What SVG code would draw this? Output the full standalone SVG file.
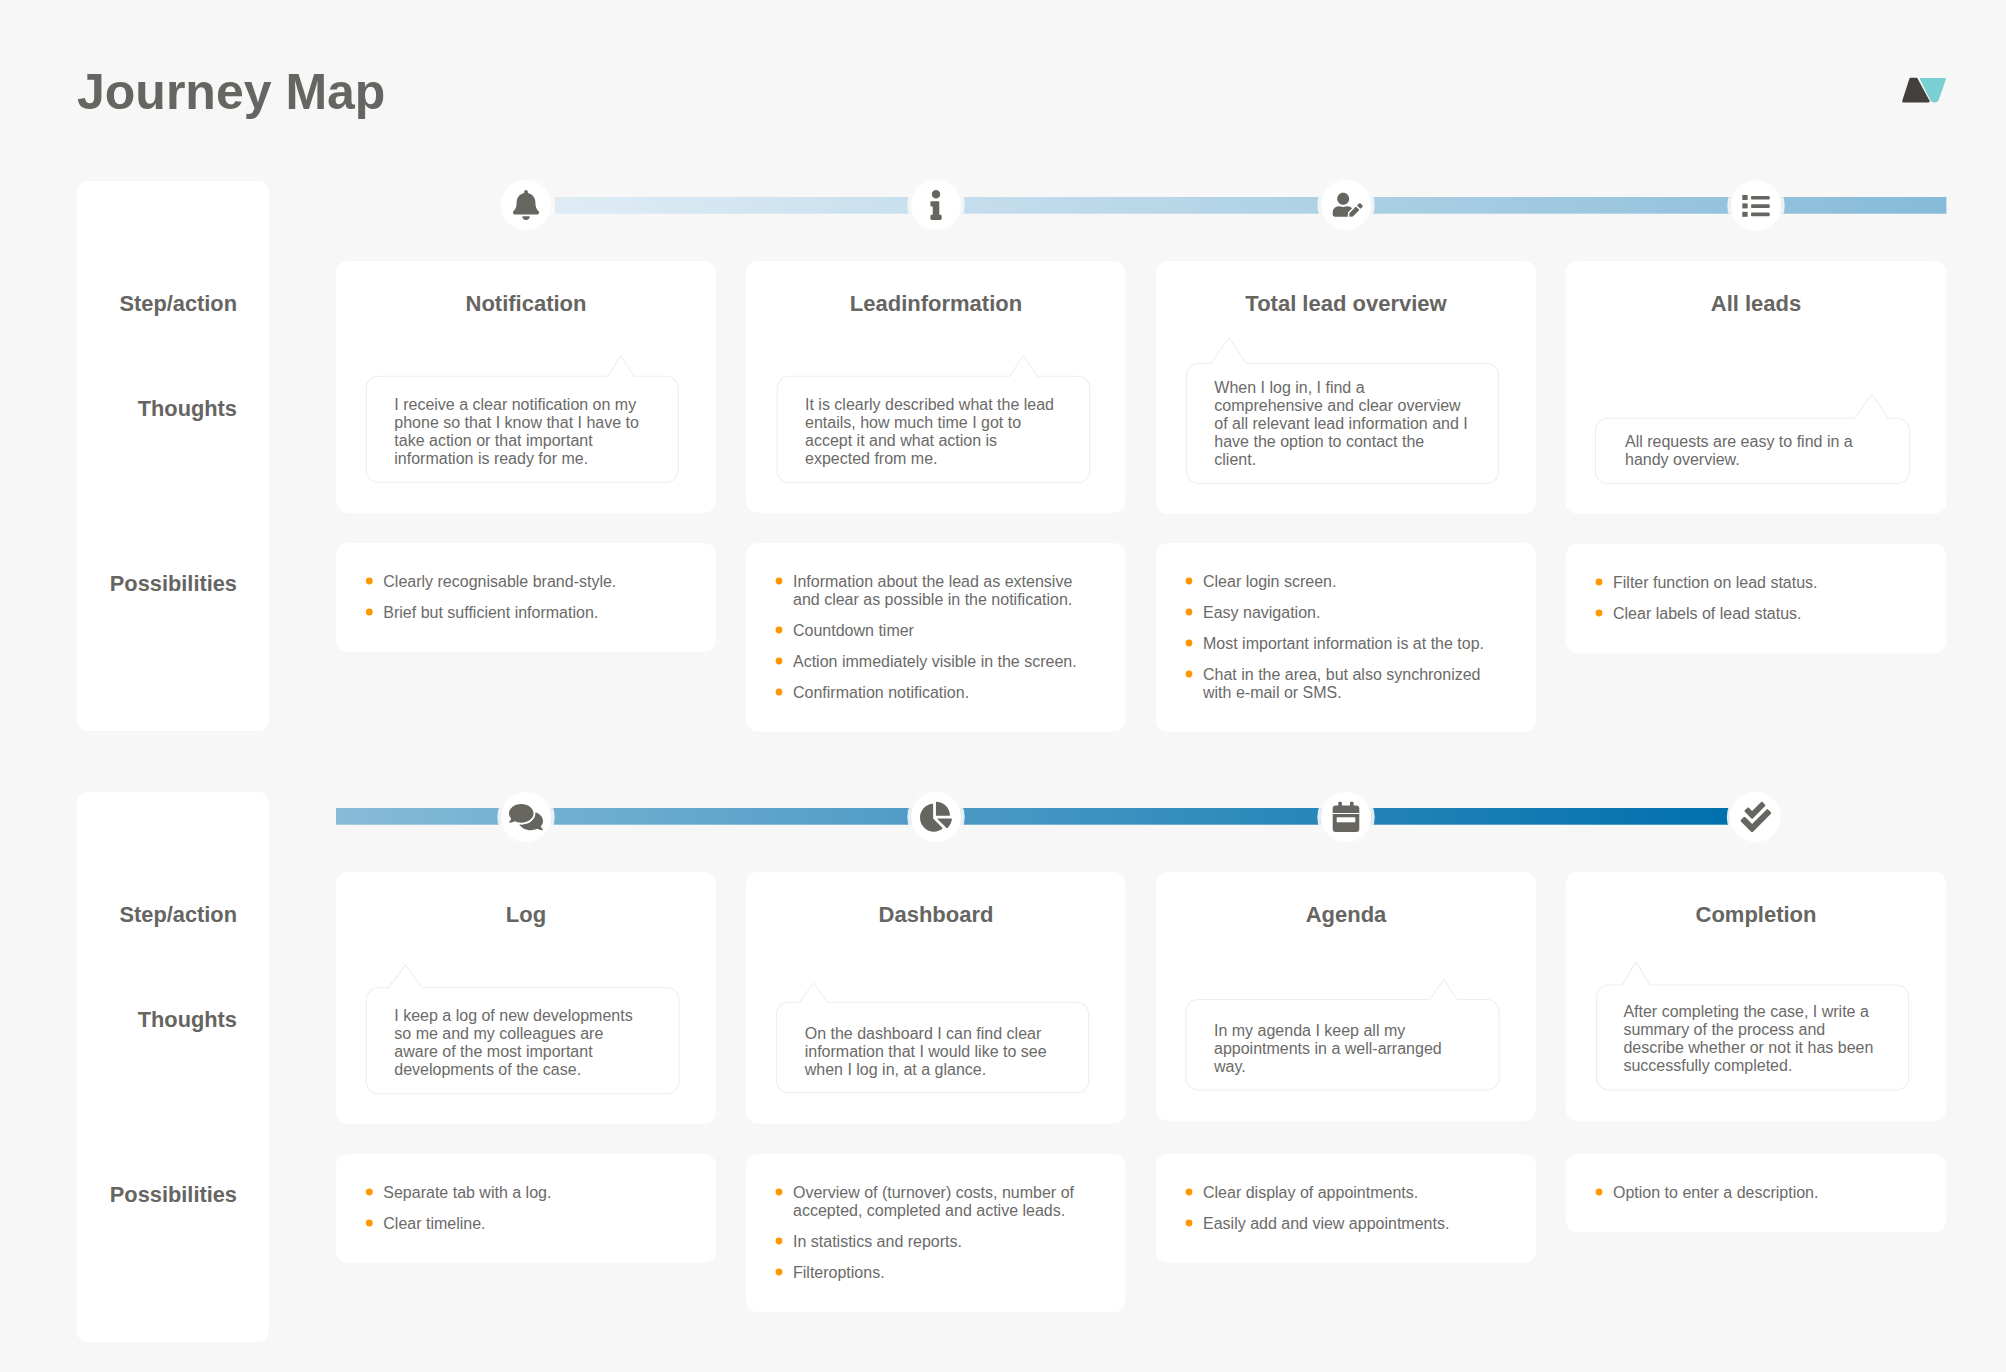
<svg xmlns="http://www.w3.org/2000/svg" width="2006" height="1372" viewBox="0 0 2006 1372">
<style>
text{font-family:"Liberation Sans",Arial,sans-serif;fill:#666562}
.t{font-size:50px;font-weight:700}
.l{font-size:21.8px;font-weight:700;text-anchor:end}
.h{font-size:22px;font-weight:700;text-anchor:middle}
.b{font-size:16px;fill:#6b6a68}
.p{fill:#fff}
.bub{fill:#fff;stroke:#eeeeee;stroke-width:1.1;stroke-linejoin:round}
.dot{fill:#ff9800}
.ring{fill:#f7f7f7;opacity:.9}
.ic{fill:#666560}
</style>
<defs>
<linearGradient id="g1" gradientUnits="userSpaceOnUse" x1="554" y1="0" x2="1946" y2="0"><stop offset="0" stop-color="#dfecf5"/><stop offset="1" stop-color="#86bbd8"/></linearGradient>
<linearGradient id="g2" gradientUnits="userSpaceOnUse" x1="336" y1="0" x2="1729" y2="0"><stop offset="0" stop-color="#87bbd8"/><stop offset="1" stop-color="#0070ad"/></linearGradient>
<path id="ibell" d="M224 512c35.32 0 63.97-28.65 63.97-64H160.03c0 35.35 28.65 64 63.97 64zm215.39-149.71c-19.32-20.76-55.47-51.99-55.47-154.29 0-77.7-54.48-139.9-127.94-155.16V32c0-17.67-14.32-32-31.98-32s-31.98 14.33-31.98 32v20.84C118.56 68.1 64.08 130.3 64.08 208c0 102.3-36.15 133.53-55.47 154.29-6 6.45-8.66 14.16-8.61 21.71.11 16.4 12.98 32 32.1 32h383.8c19.12 0 32-15.6 32.1-32 .05-7.55-2.61-15.27-8.61-21.71z"/>
</defs>
<rect width="2006" height="1372" fill="#f7f7f7"/>
<text id="title" class="t" x="77" y="109">Journey Map</text>
<g id="logo">
<path d="M1903.3 101.3L1910.5 79H1916.5L1928.5 101.3Z" fill="#44403e" stroke="#44403e" stroke-width="2.4" stroke-linejoin="round"/>
<path d="M1921 79H1945L1937.5 100.3Q1934.5 102.8 1931.5 100.3Z" fill="#7acfd2" stroke="#7acfd2" stroke-width="2" stroke-linejoin="round"/>
</g>
<g id="connectors">
<rect x="555" y="197" width="1391.4" height="16.7" fill="url(#g1)"/>
<rect x="336" y="808" width="1393" height="16.7" fill="url(#g2)"/>
</g>
<g id="side-1"><rect class="p" x="77" y="181" width="191.6" height="550" rx="10"/>
<text class="l" x="237" y="311">Step/action</text><text class="l" x="237" y="416">Thoughts</text><text class="l" x="237" y="591">Possibilities</text></g>
<g id="side-2"><rect class="p" x="77" y="792" width="191.6" height="550" rx="10"/>
<text class="l" x="237" y="922">Step/action</text><text class="l" x="237" y="1027">Thoughts</text><text class="l" x="237" y="1202">Possibilities</text></g>

<g id="step-notification">
<rect class="p" x="336" y="261" width="380" height="251.7" rx="12"/>
<circle class="ring" cx="526" cy="205" r="28.7"/><circle class="p" cx="526" cy="205" r="25"/>
<use href="#ibell" class="ic" transform="translate(512.9 190) scale(.0586)"/>
<text class="h" x="526" y="311">Notification</text>
<path class="bub" d="M378 376.3H607.7L620.7 355.7L634 376.3H666.3a12 12 0 0 1 12 12V470.3a12 12 0 0 1-12 12H378.3a12 12 0 0 1-12-12V388.3a12 12 0 0 1 12-12Z"/>
<text class="b" x="394.3" y="410">I receive a clear notification on my</text><text class="b" x="394.3" y="428">phone so that I know that I have to</text><text class="b" x="394.3" y="446">take action or that important</text><text class="b" x="394.3" y="464">information is ready for me.</text>
<rect class="p" x="336" y="543" width="380" height="108.7" rx="12"/>
<circle class="dot" cx="369.3" cy="581" r="3.4"/><text class="b" x="383.3" y="586.7">Clearly recognisable brand-style.</text>
<circle class="dot" cx="369.3" cy="612" r="3.4"/><text class="b" x="383.3" y="617.7">Brief but sufficient information.</text>
</g>

<g id="step-leadinformation">
<rect class="p" x="746" y="261" width="379.4" height="251.7" rx="12"/>
<circle class="ring" cx="936" cy="205" r="28.7"/><circle class="p" cx="936" cy="205" r="25"/>
<path class="ic" transform="translate(930.4 190) scale(.0586)" d="M20 424.229h20V279.771H20c-11.046 0-20-8.954-20-20V212c0-11.046 8.954-20 20-20h112c11.046 0 20 8.954 20 20v212.229h20c11.046 0 20 8.954 20 20V492c0 11.046-8.954 20-20 20H20c-11.046 0-20-8.954-20-20v-47.771c0-11.046 8.954-20 20-20zM96 0C56.235 0 24 32.235 24 72s32.235 72 72 72 72-32.235 72-72S135.764 0 96 0z"/>
<text class="h" x="936" y="311">Leadinformation</text>
<path class="bub" d="M789.2 376.3H1009.8L1023.2 355.7L1037.5 376.3H1077.7a12 12 0 0 1 12 12V470.7a12 12 0 0 1-12 12H789.2a12 12 0 0 1-12-12V388.3a12 12 0 0 1 12-12Z"/>
<text class="b" x="805" y="410">It is clearly described what the lead</text><text class="b" x="805" y="428">entails, how much time I got to</text><text class="b" x="805" y="446">accept it and what action is</text><text class="b" x="805" y="464">expected from me.</text>
<rect class="p" x="746" y="543" width="379.4" height="188.7" rx="12"/>
<circle class="dot" cx="779" cy="581" r="3.4"/><text class="b" x="793" y="586.7">Information about the lead as extensive</text><text class="b" x="793" y="604.7">and clear as possible in the notification.</text>
<circle class="dot" cx="779" cy="630" r="3.4"/><text class="b" x="793" y="635.7">Countdown timer</text>
<circle class="dot" cx="779" cy="661" r="3.4"/><text class="b" x="793" y="666.7">Action immediately visible in the screen.</text>
<circle class="dot" cx="779" cy="692" r="3.4"/><text class="b" x="793" y="697.7">Confirmation notification.</text>
</g>

<g id="step-total-lead-overview">
<rect class="p" x="1155.8" y="261" width="380.2" height="252.7" rx="12"/>
<circle class="ring" cx="1346" cy="205" r="28.7"/><circle class="p" cx="1346" cy="205" r="25"/>
<path class="ic" transform="translate(1332.7 192.7) scale(.0469)" d="M224 256c70.7 0 128-57.3 128-128S294.7 0 224 0 96 57.3 96 128s57.3 128 128 128zm89.6 32h-16.7c-22.2 10.2-46.9 16-72.9 16s-50.6-5.8-72.9-16h-16.7C60.2 288 0 348.2 0 422.4V464c0 26.5 21.5 48 48 48h274.9c-2.4-6.8-3.4-14-2.6-21.3l6.8-60.9 1.2-11.1 7.9-7.9 77.3-77.3c-24.5-27.7-60-45.5-99.9-45.5zm45.3 145.3l-6.8 61c-1.1 10.2 7.5 18.8 17.6 17.6l60.9-6.8 137.9-137.9-71.7-71.7-137.9 137.8zM633 268.9L595.1 231c-9.3-9.3-24.5-9.3-33.8 0l-37.8 37.8-4.1 4.1 71.8 71.7 41.8-41.8c9.3-9.4 9.3-24.5 0-33.9z"/>
<text class="h" x="1346" y="311">Total lead overview</text>
<path class="bub" d="M1198.6 363.5H1211L1229 337.5L1246.4 363.5H1486.6a12 12 0 0 1 12 12V471.3a12 12 0 0 1-12 12H1198.6a12 12 0 0 1-12-12V375.5a12 12 0 0 1 12-12Z"/>
<text class="b" x="1214.3" y="393">When I log in, I find a</text><text class="b" x="1214.3" y="411">comprehensive and clear overview</text><text class="b" x="1214.3" y="429">of all relevant lead information and I</text><text class="b" x="1214.3" y="447">have the option to contact the</text><text class="b" x="1214.3" y="465">client.</text>
<rect class="p" x="1155.8" y="543" width="380.2" height="188.7" rx="12"/>
<circle class="dot" cx="1189" cy="581" r="3.4"/><text class="b" x="1203" y="586.7">Clear login screen.</text>
<circle class="dot" cx="1189" cy="612" r="3.4"/><text class="b" x="1203" y="617.7">Easy navigation.</text>
<circle class="dot" cx="1189" cy="643" r="3.4"/><text class="b" x="1203" y="648.7">Most important information is at the top.</text>
<circle class="dot" cx="1189" cy="674" r="3.4"/><text class="b" x="1203" y="679.7">Chat in the area, but also synchronized</text><text class="b" x="1203" y="697.7">with e-mail or SMS.</text>
</g>

<g id="step-all-leads">
<rect class="p" x="1565.6" y="261" width="380.8" height="252.7" rx="12"/>
<circle class="ring" cx="1756" cy="205.5" r="28.7"/><circle class="p" cx="1756" cy="205.5" r="25"/>
<g class="ic"><rect x="1742.3" y="195" width="5.3" height="5"/><rect x="1742.3" y="203.4" width="5.3" height="5"/><rect x="1742.3" y="211.8" width="5.3" height="5"/><rect x="1751" y="196" width="18.7" height="3.6" rx="1"/><rect x="1751" y="204.3" width="18.7" height="3.6" rx="1"/><rect x="1751" y="212.6" width="18.7" height="3.6" rx="1"/></g>
<text class="h" x="1756" y="311">All leads</text>
<path class="bub" d="M1607.5 418.3H1855L1871.6 394L1888 418.3H1897.5a12 12 0 0 1 12 12V471.3a12 12 0 0 1-12 12H1607.5a12 12 0 0 1-12-12V430.3a12 12 0 0 1 12-12Z"/>
<text class="b" x="1625" y="447">All requests are easy to find in a</text><text class="b" x="1625" y="465">handy overview.</text>
<rect class="p" x="1565.6" y="544" width="380.8" height="108.7" rx="12"/>
<circle class="dot" cx="1599" cy="582" r="3.4"/><text class="b" x="1613" y="588">Filter function on lead status.</text>
<circle class="dot" cx="1599" cy="613" r="3.4"/><text class="b" x="1613" y="619">Clear labels of lead status.</text>
</g>

<g id="step-log">
<rect class="p" x="336" y="872" width="380" height="251.7" rx="12"/>
<circle class="ring" cx="526" cy="817" r="28.7"/><circle class="p" cx="526" cy="817" r="25"/>
<path class="ic" transform="translate(509 802) scale(.059)" d="M416 192c0-88.4-93.1-160-208-160S0 103.6 0 192c0 34.3 14.1 65.9 38 92-13.4 30.2-35.5 54.2-35.8 54.5-2.2 2.3-2.8 5.7-1.5 8.7S4.8 352 8 352c36.6 0 66.9-12.3 88.7-25 32.2 15.7 70.3 25 111.3 25 114.9 0 208-71.6 208-160zm122 220c23.9-26 38-57.7 38-92 0-66.9-53.5-124.2-129.3-148.1.9 6.6 1.3 13.3 1.3 20.1 0 105.9-107.7 192-240 192-10.8 0-21.3-.8-31.7-1.9C207.8 439.6 281.8 480 368 480c41 0 79.1-9.2 111.3-25 21.8 12.7 52.1 25 88.7 25 3.2 0 6.1-1.9 7.3-4.8 1.3-2.9.7-6.3-1.5-8.7-.3-.3-22.4-24.2-35.8-54.5z"/>
<text class="h" x="526" y="922">Log</text>
<path class="bub" d="M378.3 987.8H388L405.5 964.8L422 987.8H667a12 12 0 0 1 12 12V1081.8a12 12 0 0 1-12 12H378.3a12 12 0 0 1-12-12V999.8a12 12 0 0 1 12-12Z"/>
<text class="b" x="394.3" y="1020.7">I keep a log of new developments</text><text class="b" x="394.3" y="1038.7">so me and my colleagues are</text><text class="b" x="394.3" y="1056.7">aware of the most important</text><text class="b" x="394.3" y="1074.7">developments of the case.</text>
<rect class="p" x="336" y="1154" width="380" height="108.7" rx="12"/>
<circle class="dot" cx="369.3" cy="1192" r="3.4"/><text class="b" x="383.3" y="1197.8">Separate tab with a log.</text>
<circle class="dot" cx="369.3" cy="1223" r="3.4"/><text class="b" x="383.3" y="1228.8">Clear timeline.</text>
</g>

<g id="step-dashboard">
<rect class="p" x="746" y="872" width="379.4" height="251.7" rx="12"/>
<circle class="ring" cx="936" cy="817" r="28.7"/><circle class="p" cx="936" cy="817" r="25"/>
<path class="ic" transform="translate(920 801.7) scale(.0586)" d="M527.79 288H290.5l158.03 158.03c6.04 6.04 15.98 6.53 22.19.68 38.7-36.46 65.32-85.61 73.13-140.86 1.34-9.46-6.51-17.85-16.06-17.85zm-15.83-64.8C503.72 103.74 408.26 8.28 288.8.04 279.68-.59 272 7.1 272 16.24V240h223.77c9.14 0 16.82-7.68 16.19-16.8zM224 288V50.71c0-9.55-8.39-17.4-17.84-16.06C86.99 51.49-4.1 155.6.14 280.37 4.5 408.51 114.83 513.59 243.03 511.98c50.4-.63 96.97-16.87 135.26-44.03 7.9-5.6 8.42-17.23 1.57-24.08L224 288z"/>
<text class="h" x="936" y="922">Dashboard</text>
<path class="bub" d="M788.5 1002.2H799.6L813.6 983L827.7 1002.2H1076.7a12 12 0 0 1 12 12V1080.8a12 12 0 0 1-12 12H788.5a12 12 0 0 1-12-12V1014.2a12 12 0 0 1 12-12Z"/>
<text class="b" x="804.7" y="1038.7">On the dashboard I can find clear</text><text class="b" x="804.7" y="1056.7">information that I would like to see</text><text class="b" x="804.7" y="1074.7">when I log in, at a glance.</text>
<rect class="p" x="746" y="1154" width="379.4" height="158" rx="12"/>
<circle class="dot" cx="779" cy="1192" r="3.4"/><text class="b" x="793" y="1197.8">Overview of (turnover) costs, number of</text><text class="b" x="793" y="1215.8">accepted, completed and active leads.</text>
<circle class="dot" cx="779" cy="1241" r="3.4"/><text class="b" x="793" y="1246.8">In statistics and reports.</text>
<circle class="dot" cx="779" cy="1272" r="3.4"/><text class="b" x="793" y="1277.8">Filteroptions.</text>
</g>

<g id="step-agenda">
<rect class="p" x="1155.8" y="872" width="380.2" height="248.7" rx="12"/>
<circle class="ring" cx="1346" cy="817" r="28.7"/><circle class="p" cx="1346" cy="817" r="25"/>
<g class="ic"><rect x="1338.3" y="801.7" width="3.6" height="8" rx="1"/><rect x="1350" y="801.7" width="3.6" height="8" rx="1"/><rect x="1332.7" y="805.6" width="26.6" height="26.4" rx="3"/></g>
<rect x="1332.7" y="813" width="26.6" height="1" fill="#fff"/><rect x="1336.7" y="817.3" width="18.6" height="5" fill="#fff"/>
<text class="h" x="1346" y="922">Agenda</text>
<path class="bub" d="M1198 999.5H1430L1444 979.2L1457 999.5H1487a12 12 0 0 1 12 12V1078a12 12 0 0 1-12 12H1198a12 12 0 0 1-12-12V1011.5a12 12 0 0 1 12-12Z"/>
<text class="b" x="1214" y="1035.5">In my agenda I keep all my</text><text class="b" x="1214" y="1053.5">appointments in a well-arranged</text><text class="b" x="1214" y="1071.5">way.</text>
<rect class="p" x="1155.8" y="1154" width="380.2" height="108.7" rx="12"/>
<circle class="dot" cx="1189" cy="1192" r="3.4"/><text class="b" x="1203" y="1197.8">Clear display of appointments.</text>
<circle class="dot" cx="1189" cy="1223" r="3.4"/><text class="b" x="1203" y="1228.8">Easily add and view appointments.</text>
</g>

<g id="step-completion">
<rect class="p" x="1565.6" y="872" width="380.8" height="248.7" rx="12"/>
<circle class="ring" cx="1755.5" cy="817" r="28.7"/><circle class="p" cx="1755.5" cy="817" r="25"/>
<path class="ic" transform="translate(1740.7 801.7) scale(.0594)" d="M505 174.8l-39.6-39.6c-9.4-9.4-24.6-9.4-33.9 0L192 374.7 80.6 263.2c-9.4-9.4-24.6-9.4-33.9 0L7 302.9c-9.4 9.4-9.4 24.6 0 34L175 505c9.4 9.4 24.6 9.4 33.9 0l296-296.2c9.4-9.5 9.4-24.7.1-34zm-324.3 106c6.2 6.3 16.4 6.3 22.6 0l208-208.2c6.2-6.3 6.2-16.4 0-22.6L366.1 4.7c-6.2-6.3-16.4-6.3-22.6 0L192 156.2l-55.4-55.5c-6.2-6.3-16.4-6.3-22.6 0L68.7 146c-6.2 6.3-6.2 16.4 0 22.6l112 112.2z"/>
<text class="h" x="1756" y="922">Completion</text>
<path class="bub" d="M1608.6 985H1622L1636 962L1650 985H1896.7a12 12 0 0 1 12 12V1078a12 12 0 0 1-12 12H1608.6a12 12 0 0 1-12-12V997a12 12 0 0 1 12-12Z"/>
<text class="b" x="1623.4" y="1017.4">After completing the case, I write a</text><text class="b" x="1623.4" y="1035.4">summary of the process and</text><text class="b" x="1623.4" y="1053.4">describe whether or not it has been</text><text class="b" x="1623.4" y="1071.4">successfully completed.</text>
<rect class="p" x="1565.6" y="1154" width="380.8" height="78" rx="12"/>
<circle class="dot" cx="1599" cy="1192" r="3.4"/><text class="b" x="1613" y="1197.8">Option to enter a description.</text>
</g>
</svg>
